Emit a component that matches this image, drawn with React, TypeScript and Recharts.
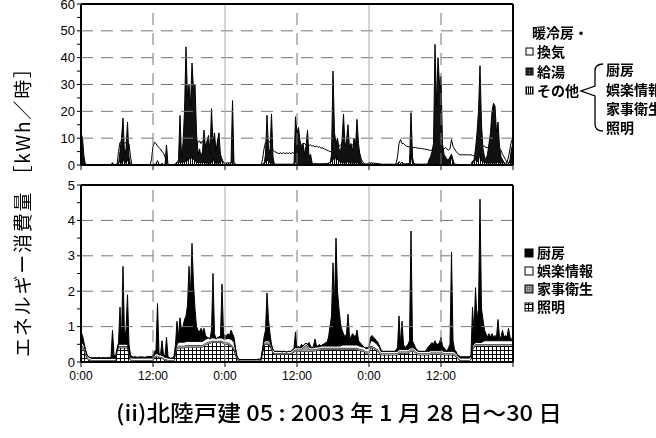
import React from 'react';
import { AreaChart, Area, XAxis, YAxis, ReferenceLine } from 'recharts';

// ---- axes / categories ----
const STEP_HOURS = 0.25; // one sample every 15 minutes, 0:00 day1 .. 0:00 day4
const xTickHours = [0, 12, 24, 36, 48, 60, 72];
const xTickLabels = ['0:00', '12:00', '0:00', '12:00', '0:00', '12:00', ''];
const noonLines = [12, 36, 60];
const midnightLines = [24, 48];
const topYTicks = [0, 5, 10, 15, 20, 25, 30, 35, 40, 45, 50, 55, 60];
const topYMajor = [0, 10, 20, 30, 40, 50, 60];
const topGrid = [10, 20, 30, 40, 50];
const bottomYTicks = [0, 0.5, 1, 1.5, 2, 2.5, 3, 3.5, 4, 4.5, 5];
const bottomYMajor = [0, 1, 2, 3, 4, 5];
const bottomGrid = [1, 2, 3, 4];

// ---- bottom panel series [kWh/h], 15-min samples, one row = 3 hours ----
const lighting = [
  .40, .38, .32, .20, .10, .06, .04, .03, .03, .03, .03, .03,
  .03, .03, .03, .03, .03, .03, .03, .03, .03, .03, .03, .03,
  .30, .40, .40, .40, .40, .40, .40, .40, .20, .05, .03, .03,
  .03, .03, .03, .03, .03, .03, .03, .03, .03, .03, .03, .03,
  .03, .12, .15, .15, .12, .12, .10, .08, .05, .05, .03, .03,
  .03, .03, .03, .25, .35, .40, .40, .40, .40, .40, .42, .42,
  .42, .42, .42, .42, .42, .42, .42, .42, .42, .42, .45, .48,
  .50, .52, .52, .55, .55, .55, .55, .55, .55, .55, .55, .52,
  .50, .50, .50, .48, .45, .40, .35, .20, .08, .03, .02, .02,
  .02, .02, .02, .02, .02, .02, .02, .02, .02, .02, .02, .02,
  .03, .25, .45, .50, .50, .50, .45, .35, .25, .22, .22, .22,
  .22, .22, .22, .22, .22, .22, .22, .22, .22, .25, .28, .30,
  .30, .30, .30, .30, .30, .30, .30, .30, .30, .30, .30, .30,
  .32, .32, .33, .33, .35, .35, .35, .35, .35, .35, .35, .35,
  .35, .35, .35, .35, .35, .35, .35, .35, .35, .35, .35, .35,
  .35, .35, .35, .35, .35, .33, .32, .30, .30, .28, .25, .25,
  .25, .40, .40, .38, .35, .33, .30, .25, .20, .20, .20, .20,
  .20, .20, .20, .20, .20, .20, .20, .20, .25, .25, .25, .25,
  .25, .25, .25, .28, .30, .30, .30, .25, .22, .20, .20, .20,
  .20, .20, .20, .20, .20, .22, .22, .22, .22, .22, .22, .22,
  .22, .22, .20, .20, .20, .20, .20, .20, .20, .18, .15, .10,
  .05, .03, .03, .03, .03, .03, .03, .03, .08, .35, .40, .45,
  .45, .45, .45, .45, .45, .45, .45, .45, .45, .45, .45, .45,
  .45, .45, .45, .45, .45, .45, .45, .45, .45, .45, .45, .45,
  .45,
];
const household = [
  .08, .07, .06, .05, .04, .03, .03, .03, .03, .03, .03, .03,
  .03, .03, .03, .03, .03, .03, .03, .03, .03, .03, .03, .03,
  .03, .05, .05, .05, .05, .05, .05, .05, .04, .03, .03, .03,
  .03, .03, .03, .03, .03, .03, .03, .03, .03, .03, .03, .03,
  .03, .03, .03, .03, .03, .03, .03, .03, .03, .03, .03, .03,
  .03, .03, .03, .04, .05, .06, .06, .06, .06, .06, .06, .06,
  .06, .06, .06, .06, .06, .06, .06, .06, .06, .06, .06, .06,
  .06, .06, .05, .05, .05, .05, .05, .05, .05, .05, .05, .05,
  .05, .05, .05, .05, .05, .05, .05, .04, .03, .02, .02, .02,
  .02, .02, .02, .02, .02, .02, .02, .02, .02, .02, .02, .02,
  .02, .04, .05, .05, .05, .05, .05, .05, .04, .03, .03, .03,
  .03, .03, .03, .03, .03, .03, .03, .03, .03, .04, .05, .05,
  .05, .05, .05, .05, .10, .15, .18, .15, .08, .05, .05, .05,
  .05, .05, .05, .05, .05, .05, .05, .05, .05, .05, .05, .05,
  .05, .05, .05, .05, .05, .05, .05, .05, .05, .05, .05, .05,
  .05, .05, .05, .05, .05, .05, .05, .05, .05, .05, .05, .05,
  .05, .05, .05, .05, .05, .05, .05, .05, .05, .05, .05, .05,
  .05, .05, .05, .05, .05, .05, .05, .05, .05, .05, .05, .05,
  .05, .05, .05, .05, .05, .05, .05, .05, .05, .05, .05, .05,
  .05, .05, .05, .05, .05, .05, .05, .05, .05, .05, .05, .05,
  .05, .05, .05, .05, .05, .05, .05, .05, .05, .05, .05, .05,
  .04, .03, .03, .03, .03, .03, .03, .03, .03, .05, .05, .05,
  .05, .05, .05, .05, .05, .05, .05, .05, .05, .05, .05, .05,
  .05, .05, .05, .05, .05, .05, .05, .05, .05, .05, .05, .05,
  .05,
];
const entertainment = [
  .10, .09, .08, .07, .06, .05, .05, .04, .04, .04, .04, .04,
  .04, .04, .04, .04, .04, .04, .04, .04, .04, .04, .04, .04,
  .02, .05, .05, .05, .05, .05, .05, .05, .05, .05, .05, .05,
  .05, .05, .05, .05, .05, .05, .05, .05, .05, .05, .05, .05,
  .05, .05, .05, .05, .05, .05, .05, .05, .05, .05, .05, .05,
  .04, .04, .04, .05, .08, .10, .10, .10, .10, .10, .10, .10,
  .10, .10, .10, .10, .10, .10, .10, .10, .10, .10, .10, .10,
  .10, .10, .08, .08, .08, .08, .05, .08, .08, .08, .08, .08,
  .10, .10, .12, .12, .15, .15, .15, .10, .05, .03, .03, .03,
  .03, .03, .03, .03, .03, .03, .03, .03, .03, .03, .03, .03,
  .03, .04, .05, .05, .05, .05, .05, .05, .05, .05, .05, .05,
  .05, .05, .03, .05, .05, .03, .05, .05, .05, .05, .05, .05,
  .05, .05, .05, .05, .05, .05, .05, .05, .05, .05, .05, .05,
  .05, .05, .05, .05, .05, .05, .05, .05, .05, .05, .05, .05,
  .05, .05, .05, .05, .05, .05, .08, .08, .08, .08, .08, .08,
  .08, .08, .08, .08, .08, .08, .08, .08, .08, .08, .08, .08,
  .10, .15, .15, .15, .15, .13, .12, .10, .05, .05, .05, .05,
  .05, .05, .05, .05, .05, .05, .05, .05, .05, .05, .05, .05,
  .05, .05, .05, .05, .05, .05, .05, .05, .05, .05, .05, .05,
  .05, .05, .05, .05, .05, .05, .05, .05, .05, .05, .05, .05,
  .05, .05, .05, .05, .05, .05, .05, .05, .05, .05, .05, .05,
  .05, .05, .05, .05, .05, .05, .05, .05, .05, .05, .05, .05,
  .05, .05, .05, .05, .08, .10, .10, .10, .10, .10, .10, .10,
  .10, .10, .10, .10, .10, .10, .10, .10, .10, .10, .10, .10,
  .10,
];
const kitchen = [
  .27, .21, .09, .03, 0, .01, .01, .02, .02, .03, .02, .02,
  .03, .02, .02, .03, .02, .02, .03, .02, .05, .80, .10, .05,
  0, .05, 1.05, .10, 2.20, .20, .40, 1.40, .21, .07, .04, .03,
  .04, .03, .02, .04, .03, .04, .02, .03, .04, .05, .04, .05,
  .07, .10, .12, 1.42, .05, 0, .42, .04, .05, .57, .04, .01,
  0, .02, .05, .16, .67, .14, .69, .34, .44, .64, .72, 1.02,
  2.12, 1.32, 2.77, 1.62, .92, .42, .32, .27, .37, .27, .34, .11,
  .04, 0, 0, .22, 1.82, .12, 0, .02, .02, .07, 1.52, .15,
  .10, .10, .13, .10, .25, .20, .15, .06, 0, 0, 0, 0,
  0, 0, 0, 0, 0, 0, 0, 0, 0, 0, .01, .01,
  .02, .02, .15, .30, 1.35, .60, .25, .05, .01, 0, 0, 0,
  0, 0, .02, 0, 0, 0, 0, 0, 0, .01, .02, .45,
  0, .05, 0, .10, 0, 0, 0, 0, .12, .05, 0, .05,
  .23, .03, .02, .07, 0, .05, .05, .10, .10, .25, .55, .85,
  2.35, 1.15, 3.05, 1.55, 1.05, .65, .42, .32, .22, .32, .87, .22,
  .22, .32, .27, .22, .42, .14, .10, .07, .02, 0, .02, .02,
  .05, .10, .15, .12, .10, .09, .08, .05, .05, 0, 0, 0,
  0, 0, 0, 0, 0, 0, .05, .10, .95, .15, .80, .15,
  .05, .10, .15, .22, 3.30, .20, .10, .05, .03, 0, 0, 0,
  0, 0, .02, .10, .15, .18, .23, .18, .28, .18, .18, .23,
  .38, .13, .10, .05, 0, .10, .20, 2.80, .30, .07, .05, 0,
  .04, .04, .04, .04, .04, .04, .04, .04, .04, 1.10, .30, 1.55,
  .65, .95, 4.05, .95, .62, .30, .20, .10, .20, .10, .20, .10,
  .15, .10, .60, .10, .10, .30, .10, .15, .10, .35, .10, .05,
  0,
];

// ---- top panel series [kWh/h] (暖冷房・換気 level, 給湯 spikes); その他 = bottom panel total ----
const heating = [
  0, 0, 0, 0, 0, 0, 0, 0, 0, 0, 0, 0,
  0, 0, 0, 0, 0, 0, 0, 0, 0, 0, 0, 0,
  0, 5, 8.5, 8.5, 8, 8, 8.5, 8.5, 8, 3, 0, 0,
  0, 0, 0, 0, 0, 0, 0, 0, 0, 0, 0, 2,
  7, 8.5, 8, 7, 6.5, 6, 5, 4.5, 3, 1, 0, 0,
  0, 0, 0, 0, 0, 0, 0, 0, 2, 2, 2, 2,
  2, 2, 2, 2, 3, 7, 8.5, 9, 8, 9, 8, 7.5,
  8.5, 7, 7.5, 6.5, 7, 7.5, 6, 7, 6, 4, 2, 1,
  .5, .5, 0, 0, 0, 0, 0, 0, 0, 0, 0, 0,
  0, 0, 0, 0, 0, 0, 0, 0, 0, 0, 0, 0,
  0, 2, 6, 8.5, 9, 9, 8.5, 7, 5.5, 5, 4.8, 4.5,
  4.2, 4.6, 4.2, 4.6, 4.2, 4.6, 4.2, 4.6, 4.2, 4.6, 4.4, 4.5,
  4.5, 5, 6, 7.5, 8, 8, 7.5, 7.8, 7.3, 7.5, 7, 7.2,
  6.8, 7, 6.6, 6.8, 6.3, 6.4, 6, 5.8, 5.5, 5.3, 5, 5,
  5, 5.5, 6, 6.5, 7, 7.5, 8, 7.5, 7, 7.5, 7, 7.5,
  7, 7.5, 7, 7.5, 7, 6, 4, 2, 1, .5, 0, 0,
  .5, .5, 0, 0, 0, 0, 0, 0, 0, 0, 0, 0,
  0, 0, 0, 0, 0, 0, .5, 3, 8, 9.5, 8, 8,
  7.5, 7, 6.8, 6.8, 6.5, 6.5, 6.5, 6.5, 6.3, 6.3, 6.2, 6.2,
  6, 6, 5.8, 5.8, 5.5, 5.5, 5.5, 5.5, 5, 5, 5, 5,
  5.5, 6, 6, 6.5, 6, 5.5, 6, 9.5, 7, 6, 5, 4.5,
  4, 3.8, 3.8, 3.8, 3.8, 3.8, 3.8, 3.8, 3.8, 3.5, 3.5, 4,
  5, 5.5, 6, 6.5, 7, 7, 6.5, 6.5, 6.5, 7, 7, 7,
  6.5, 6.5, 6, 6, 5.5, 4, 3, 2, 1, 3, 6, 9,
  10,
];
const hotWater = [
  12, 10, 3, 0, 0, 0, 0, 0, 0, 0, 0, 0,
  0, 0, 0, 0, 0, 0, 0, 0, 0, 0, 0, 0,
  0, 0, 5, 10, 17.5, 4, 6, 16, 3, 0, 0, 0,
  0, 0, 0, 0, 0, 0, 0, 0, 0, 0, 0, 0,
  0, 0, 0, 0, 0, 0, 0, 0, 0, 7.5, 0, 0,
  0, 0, 0, 0, 0, 2, 18.5, 3, 8, 20, 44, 25,
  30, 22, 38, 28, 30, 12, 4, 6, 3, 5, 13, 6,
  9, 11, 4, 21, 8, 12, 5, 9, 12, 3, 1, 0,
  0, 0, 0, 0, 0, 24, 0, 0, 0, 0, 0, 0,
  0, 0, 0, 0, 0, 0, 0, 0, 0, 0, 0, 0,
  0, 0, 0, 4, 18.5, 6, 5, 19, 3, 0, 0, 0,
  0, 0, 0, 0, 0, 0, 0, 0, 0, 0, 0, 18,
  12, 14, 9, 6, 8, 4, 7, 13, 3, 4, 1, 0,
  0, 0, 0, 0, 0, 0, 0, 0, 0, 0, 0, 4,
  35, 12, 8, 10, 6, 5, 9, 19, 7, 9, 15, 6,
  8, 5, 10, 7, 17, 8, 3, 1, 0, 0, 0, 0,
  1, 0, 0, 0, 0, 0, 0, 0, 0, 0, 0, 0,
  0, 0, 0, 0, 0, 0, 0, 0, 0, 0, 0, 0,
  0, 0, 0, 0, 19.5, 3, 0, 0, 0, 0, 0, 0,
  0, 0, 0, 0, 2, 3, 5, 8, 45, 22, 40, 30,
  33, 8, 4, 3, 2, 2, 3, 4, 2, 0, 0, 0,
  0, 0, 0, 0, 0, 0, 0, 0, 0, 1, 2, 6,
  12, 20, 37, 15, 6, 3, 2, 4, 8, 12, 20, 23,
  22, 12, 16, 7, 3, 2, 1, 0, 0, 0, 2, 6,
  8,
];

const bottomData = lighting.map((v, i) => ({
  t: i * STEP_HOURS,
  lighting: v,
  household: household[i],
  entertainment: entertainment[i],
  kitchen: kitchen[i],
}));
const topData = heating.map((v, i) => ({
  t: i * STEP_HOURS,
  heating: v,
  hotWater: hotWater[i],
  other: +(lighting[i] + household[i] + entertainment[i] + kitchen[i]).toFixed(2),
}));

const numFont = '"Liberation Sans", Arial, sans-serif';
const jpFont = '"Noto Sans CJK JP", "Noto Sans", sans-serif';

const makeYTick = (majors: number[]) => (props: any) => {
  const { x, y, payload } = props;
  if (!majors.includes(payload.value)) return <g />;
  return (
    <text x={x} y={y} dy={4.5} textAnchor="end" fontSize={13} fontFamily={numFont} fill="#000">
      {payload.value}
    </text>
  );
};

const xTickRender = (props: any) => {
  const { x, y, payload } = props;
  const label = xTickLabels[xTickHours.indexOf(payload.value)] ?? '';
  return (
    <text x={x} y={y} dy={11} textAnchor="middle" fontSize={12} fontFamily={numFont} fill="#000">
      {label}
    </text>
  );
};

const emptyTick = () => <g />;

const axisLine = { stroke: '#000', strokeWidth: 2 };
const tickLine = { stroke: '#000', strokeWidth: 1 };

const areaCommon = {
  type: 'linear' as const,
  stroke: '#000',
  strokeWidth: 1,
  fillOpacity: 1,
  isAnimationActive: false,
  dot: false,
  activeDot: false,
};

export default function App() {
  return (
    <div style={{ position: 'absolute', left: 0, top: 0, width: 656, height: 438, background: '#fff', overflow: 'hidden' }}>
      <svg width={0} height={0} style={{ position: 'absolute' }}>
        <defs>
          <pattern id="gridPat" patternUnits="userSpaceOnUse" width={4} height={4}>
            <rect x={0} y={0} width={4} height={4} fill="#fff" />
            <path d="M0 0.5 H4 M0.5 0 V4" stroke="#000" strokeWidth={1} />
          </pattern>
          <pattern id="vlinePat" patternUnits="userSpaceOnUse" width={2} height={2}>
            <rect x={0} y={0} width={2} height={2} fill="#fff" />
            <path d="M0.5 0 V2" stroke="#000" strokeWidth={1} />
          </pattern>
          <pattern id="dotPat" patternUnits="userSpaceOnUse" width={2} height={2}>
            <rect x={0} y={0} width={2} height={2} fill="#777" />
            <rect x={0} y={0} width={1} height={1} fill="#bbb" />
          </pattern>
          <pattern id="darkPat" patternUnits="userSpaceOnUse" width={3} height={3}>
            <rect x={0} y={0} width={3} height={3} fill="#222" />
            <rect x={1} y={1} width={1} height={1} fill="#888" />
          </pattern>
        </defs>
      </svg>

      {/* top panel */}
      <div style={{ position: 'absolute', left: 0, top: 0 }}>
        <AreaChart width={656} height={180} data={topData} margin={{ top: 4, right: 143, bottom: 5, left: 41 }}>
          <XAxis
            dataKey="t"
            type="number"
            domain={[0, 72]}
            ticks={xTickHours}
            interval={0}
            height={10}
            tickSize={5}
            tick={emptyTick}
            axisLine={axisLine}
            tickLine={tickLine}
          />
          <YAxis
            type="number"
            domain={[0, 60]}
            ticks={topYTicks}
            interval={0}
            width={40}
            tickSize={4}
            tick={makeYTick(topYMajor)}
            axisLine={axisLine}
            tickLine={tickLine}
          />
          {topGrid.map((v) => (
            <ReferenceLine key={'h' + v} y={v} stroke="#777" strokeWidth={1} strokeDasharray="12 8" />
          ))}
          {noonLines.map((v) => (
            <ReferenceLine key={'n' + v} x={v} stroke="#777" strokeWidth={1} strokeDasharray="12 8" />
          ))}
          {midnightLines.map((v) => (
            <ReferenceLine key={'m' + v} x={v} stroke="#aaa" strokeWidth={1} />
          ))}
          <Area {...areaCommon} dataKey="heating" fill="#fff" fillOpacity={0} />
          <Area {...areaCommon} dataKey="hotWater" fill="#111" />
          <Area {...areaCommon} dataKey="other" fill="url(#vlinePat)" />
          <ReferenceLine y={60} stroke="#000" strokeWidth={2} />
          <ReferenceLine x={72} stroke="#000" strokeWidth={2} />
        </AreaChart>
      </div>

      {/* bottom panel */}
      <div style={{ position: 'absolute', left: 0, top: 170 }}>
        <AreaChart width={656} height={230} data={bottomData} margin={{ top: 15, right: 143, bottom: 8, left: 41 }}>
          <XAxis
            dataKey="t"
            type="number"
            domain={[0, 72]}
            ticks={xTickHours}
            interval={0}
            height={30}
            tickSize={5}
            tickMargin={2}
            tick={xTickRender}
            axisLine={axisLine}
            tickLine={tickLine}
          />
          <YAxis
            type="number"
            domain={[0, 5]}
            ticks={bottomYTicks}
            interval={0}
            width={40}
            tickSize={4}
            tick={makeYTick(bottomYMajor)}
            axisLine={axisLine}
            tickLine={tickLine}
          />
          {bottomGrid.map((v) => (
            <ReferenceLine key={'h' + v} y={v} stroke="#777" strokeWidth={1} strokeDasharray="12 8" />
          ))}
          {noonLines.map((v) => (
            <ReferenceLine key={'n' + v} x={v} stroke="#777" strokeWidth={1} strokeDasharray="12 8" />
          ))}
          {midnightLines.map((v) => (
            <ReferenceLine key={'m' + v} x={v} stroke="#aaa" strokeWidth={1} />
          ))}
          <Area {...areaCommon} stackId="s" dataKey="lighting" fill="url(#gridPat)" />
          <Area {...areaCommon} stackId="s" dataKey="household" fill="#999" />
          <Area {...areaCommon} stackId="s" dataKey="entertainment" fill="#fff" />
          <Area {...areaCommon} stackId="s" dataKey="kitchen" fill="#000" />
          <ReferenceLine y={5} stroke="#000" strokeWidth={2} />
          <ReferenceLine x={72} stroke="#000" strokeWidth={2} />
        </AreaChart>
      </div>

      {/* rotated y-axis title */}
      <div
        style={{
          position: 'absolute',
          left: 22 - 145,
          top: 212 - 11,
          width: 290,
          height: 22,
          lineHeight: '22px',
          textAlign: 'center',
          fontFamily: jpFont,
          fontSize: 19,
          letterSpacing: '1.8px',
          color: '#000',
          whiteSpace: 'nowrap',
          transform: 'rotate(-90deg)',
          willChange: 'transform',
        }}
      >
        エネルギー消費量 ［kWh／時］
      </div>

      {/* texts, legends */}
      <svg width={656} height={438} style={{ position: 'absolute', left: 0, top: 0, pointerEvents: 'none' }}>
        {/* top legend */}
        <g fontFamily={jpFont} fontSize={14} fontWeight={700} fill="#000">
          <text x={532} y={38}>暖冷房・</text>
          <rect x={526} y={48} width={7} height={7} fill="#fff" stroke="#000" strokeWidth={1} />
          <text x={537} y={57}>換気</text>
          <rect x={526} y={68} width={7} height={7} fill="url(#darkPat)" stroke="#000" strokeWidth={1} />
          <text x={537} y={77}>給湯</text>
          <rect x={526} y={87} width={7} height={7} fill="url(#vlinePat)" stroke="#000" strokeWidth={1} />
          <text x={537} y={96}>その他</text>
          <text x={606} y={75}>厨房</text>
          <text x={606} y={95}>娯楽情報</text>
          <text x={606} y={114}>家事衛生</text>
          <text x={606} y={133}>照明</text>
        </g>
        <path
          d="M603 64 Q595 64 595 71 L595 86 L581 91 L595 96 L595 124 Q595 131 603 131"
          fill="none"
          stroke="#000"
          strokeWidth={1.3}
        />

        {/* bottom legend */}
        <g fontFamily={jpFont} fontSize={14} fontWeight={700} fill="#000">
          <rect x={525} y={249} width={8} height={8} fill="#000" stroke="#000" strokeWidth={1} />
          <text x={537} y={258}>厨房</text>
          <rect x={525} y={267} width={8} height={8} fill="#fff" stroke="#000" strokeWidth={1} />
          <text x={537} y={276}>娯楽情報</text>
          <rect x={525} y={285} width={8} height={8} fill="url(#dotPat)" stroke="#000" strokeWidth={1} />
          <text x={537} y={294}>家事衛生</text>
          <rect x={525} y={303} width={8} height={8} fill="url(#gridPat)" stroke="#000" strokeWidth={1} />
          <text x={537} y={312}>照明</text>
        </g>

        <text
          x={116}
          y={421}
          fontSize={22}
          fontFamily={jpFont}
          fontWeight={500}
          fill="#000"
          textLength={446}
          lengthAdjust="spacingAndGlyphs"
        >
          (ii)北陸戸建 05 : 2003 年 1 月 28 日〜30 日
        </text>
      </svg>
    </div>
  );
}
